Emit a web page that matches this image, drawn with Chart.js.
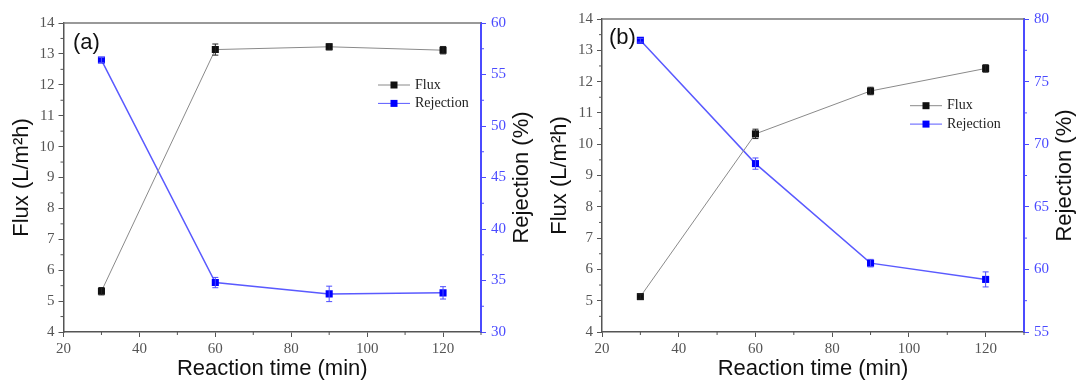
<!DOCTYPE html>
<html>
<head>
<meta charset="utf-8">
<script src="https://cdn.jsdelivr.net/npm/chart.js@4.4.1/dist/chart.umd.min.js"></script>
<style>
  body { margin: 0; background: #fff; }
  .panel { position: absolute; top: 0; }
</style>
</head>
<body>
<div class="panel" style="left:0"><canvas id="chartA" width="538" height="382"></canvas></div>
<div class="panel" style="left:538px"><canvas id="chartB" width="539" height="382"></canvas></div>
<script>
const times = [30, 60, 90, 120];

const fluxA = [5.32, 13.14, 13.23, 13.12];
const fluxErrA = [0.12, 0.18, 0.1, 0.12];
const rejA = [56.4, 34.8, 33.7, 33.8];
const rejErrA = [0.25, 0.5, 0.75, 0.6];

const fluxB = [5.13, 10.33, 11.7, 12.42];
const fluxErrB = [0.08, 0.15, 0.12, 0.12];
const rejB = [78.3, 68.45, 60.5, 59.2];
const rejErrB = [0.15, 0.45, 0.3, 0.6];

const xRange = [20, 130];
const fluxRange = [4, 14];
const rejRangeA = [30, 60];
const rejRangeB = [55, 80];

const GREY_LINE = '#8a8a8a';
const AXIS = '#555';
const BLUE_LINE = '#5a5aff';
const BLUE_AXIS = '#4b4bff';

const sans = "'Liberation Sans', Arial, sans-serif";
const serif = "'Liberation Serif', 'Times New Roman', serif";

// error bars, minor ticks, frame, legend, panel tag
const decor = {
  id: 'decor',
  afterDatasetsDraw(chart) {
    const ctx = chart.ctx;
    chart.data.datasets.forEach((ds, i) => {
      const meta = chart.getDatasetMeta(i);
      const sc = chart.scales[ds.yAxisID];
      ctx.save();
      ctx.strokeStyle = ds.errColor;
      ctx.lineWidth = 1;
      meta.data.forEach((pt, j) => {
        const v = ds.data[j].y, e = ds.errors[j];
        const y0 = sc.getPixelForValue(v - e), y1 = sc.getPixelForValue(v + e);
        ctx.beginPath();
        ctx.moveTo(pt.x, y0); ctx.lineTo(pt.x, y1);
        ctx.moveTo(pt.x - 3, y0); ctx.lineTo(pt.x + 3, y0);
        ctx.moveTo(pt.x - 3, y1); ctx.lineTo(pt.x + 3, y1);
        ctx.stroke();
      });
      ctx.restore();
    });
  },
  afterDraw(chart, args, opts) {
    const ctx = chart.ctx;
    const a = chart.chartArea;
    ctx.save();

    // top frame
    ctx.strokeStyle = '#777';
    ctx.lineWidth = 1.5;
    ctx.beginPath();
    ctx.moveTo(a.left, a.top); ctx.lineTo(a.right, a.top);
    ctx.stroke();

    // minor ticks
    ctx.lineWidth = 1;
    ['x', 'y', 'y1'].forEach(id => {
      const sc = chart.scales[id];
      ctx.strokeStyle = id === 'y1' ? BLUE_AXIS : AXIS;
      sc.ticks.forEach(t => {
        if (t.label !== '') return;
        const p = sc.getPixelForValue(t.value);
        ctx.beginPath();
        if (id === 'x') { ctx.moveTo(p, a.bottom); ctx.lineTo(p, a.bottom + 3); }
        else if (id === 'y') { ctx.moveTo(a.left - 3, p); ctx.lineTo(a.left, p); }
        else { ctx.moveTo(a.right, p); ctx.lineTo(a.right + 3, p); }
        ctx.stroke();
      });
    });

    // right axis title, reading upwards
    ctx.fillStyle = '#111';
    ctx.font = '22px ' + sans;
    ctx.textAlign = 'center';
    ctx.textBaseline = 'middle';
    ctx.translate(chart.width - opts.rightTitleOffset, (a.top + a.bottom) / 2);
    ctx.rotate(-Math.PI / 2);
    ctx.fillText('Rejection (%)', 0, 0);
    ctx.setTransform(1, 0, 0, 1, 0, 0);

    // panel tag
    ctx.textAlign = 'left';
    ctx.fillText(opts.tag, a.left + opts.tagPos[0], a.top + opts.tagPos[1]);

    // legend
    ctx.font = '14px ' + serif;
    chart.data.datasets.forEach((ds, i) => {
      const x0 = a.left + opts.legendPos[0];
      const y = a.top + opts.legendPos[1] + i * 18.4;
      ctx.strokeStyle = ds.borderColor;
      ctx.lineWidth = 1;
      ctx.beginPath();
      ctx.moveTo(x0, y); ctx.lineTo(x0 + 32, y);
      ctx.stroke();
      ctx.fillStyle = ds.pointBackgroundColor;
      ctx.fillRect(x0 + 12.5, y - 3.5, 7, 7);
      ctx.fillStyle = '#222';
      ctx.fillText(ds.label, x0 + 37, y);
    });
    ctx.restore();
  }
};

function makeChart(id, p) {
  const ctx = document.getElementById(id);
  return new Chart(ctx, {
    type: 'line',
    plugins: [decor],
    data: {
      datasets: [
        {
          label: 'Flux',
          data: times.map((t, i) => ({ x: t, y: p.flux[i] })),
          errors: p.fluxErr,
          errColor: '#222',
          yAxisID: 'y',
          borderColor: GREY_LINE,
          borderWidth: 1,
          pointStyle: 'rect',
          pointRadius: 5,
          pointBackgroundColor: '#111',
          pointBorderColor: '#111',
          pointBorderWidth: 0
        },
        {
          label: 'Rejection',
          data: times.map((t, i) => ({ x: t, y: p.rej[i] })),
          errors: p.rejErr,
          errColor: '#4d4dff',
          yAxisID: 'y1',
          borderColor: BLUE_LINE,
          borderWidth: 1.5,
          pointStyle: 'rect',
          pointRadius: 5,
          pointBackgroundColor: '#0000ff',
          pointBorderColor: '#0000ff',
          pointBorderWidth: 0
        }
      ]
    },
    options: {
      responsive: false,
      animation: false,
      layout: { padding: { top: p.top, left: 0, right: 0, bottom: 0 } },
      plugins: {
        legend: { display: false },
        tooltip: { enabled: false },
        decor: {
          tag: p.tag,
          tagPos: p.tagPos,
          legendPos: p.legendPos,
          rightTitleOffset: p.rightTitleOffset
        }
      },
      scales: {
        x: {
          type: 'linear',
          min: xRange[0],
          max: xRange[1],
          afterFit: s => { s.height = 50; },
          border: { color: AXIS, width: 1.5 },
          grid: {
            drawOnChartArea: false,
            tickLength: 5,
            tickColor: c => (c.tick && c.tick.value % 20 === 0) ? AXIS : 'rgba(0,0,0,0)'
          },
          ticks: {
            stepSize: 10,
            autoSkip: false,
            maxRotation: 0,
            padding: 3,
            color: '#555',
            font: { family: serif, size: 15 },
            callback: v => v % 20 === 0 && v < 130 ? String(v) : ''
          },
          title: {
            display: true,
            text: 'Reaction time (min)',
            color: '#111',
            padding: 0,
            font: { family: sans, size: 22, lineHeight: 1.2 }
          }
        },
        y: {
          position: 'left',
          min: fluxRange[0],
          max: fluxRange[1],
          afterFit: s => { s.width = p.yWidth; },
          border: { color: AXIS, width: 1.5 },
          grid: {
            drawOnChartArea: false,
            tickLength: 5,
            tickColor: c => (c.tick && Number.isInteger(c.tick.value)) ? AXIS : 'rgba(0,0,0,0)'
          },
          ticks: {
            stepSize: 0.5,
            autoSkip: false,
            padding: 4,
            color: '#555',
            font: { family: serif, size: 15 },
            callback: v => Number.isInteger(v) ? String(v) : ''
          },
          title: {
            display: true,
            text: 'Flux (L/m²h)',
            color: '#111',
            padding: { top: 9, bottom: 0 },
            font: { family: sans, size: 22, lineHeight: 1.2 }
          }
        },
        y1: {
          position: 'right',
          min: p.rejRange[0],
          max: p.rejRange[1],
          afterFit: s => { s.width = p.y1Width; },
          border: { color: BLUE_AXIS, width: 2 },
          grid: {
            drawOnChartArea: false,
            tickLength: 5,
            tickColor: c => (c.tick && c.tick.value % 5 === 0) ? BLUE_AXIS : 'rgba(0,0,0,0)'
          },
          ticks: {
            stepSize: 2.5,
            autoSkip: false,
            padding: 5,
            color: BLUE_AXIS,
            font: { family: serif, size: 15 },
            callback: v => v % 5 === 0 ? String(v) : ''
          }
        }
      }
    }
  });
}

makeChart('chartA', {
  flux: fluxA, fluxErr: fluxErrA, rej: rejA, rejErr: rejErrA, rejRange: rejRangeA,
  top: 23, yWidth: 63.5, y1Width: 57,
  tag: '(a)', tagPos: [9.5, 20], legendPos: [314.5, 62], rightTitleOffset: 16
});

makeChart('chartB', {
  flux: fluxB, fluxErr: fluxErrB, rej: rejB, rejErr: rejErrB, rejRange: rejRangeB,
  top: 19, yWidth: 64, y1Width: 53,
  tag: '(b)', tagPos: [7, 19], legendPos: [308, 86.7], rightTitleOffset: 12
});
</script>
</body>
</html>
